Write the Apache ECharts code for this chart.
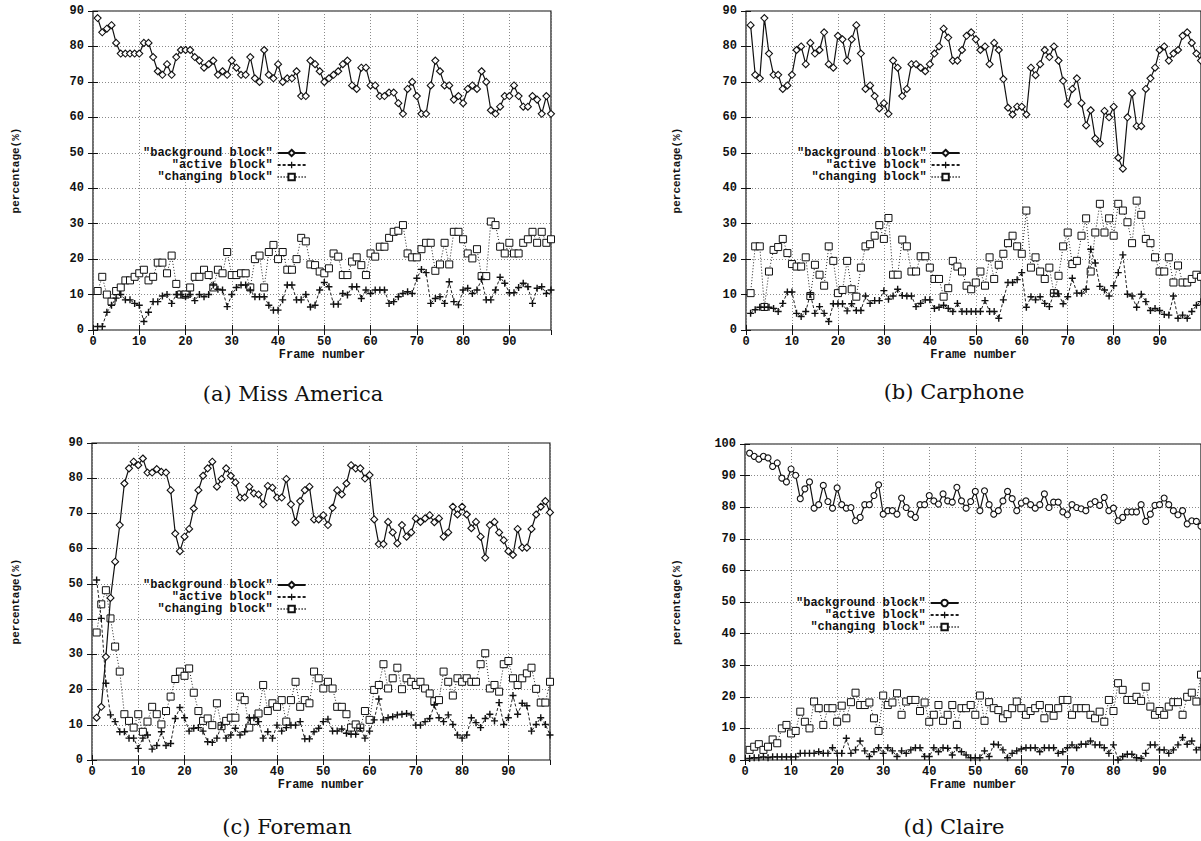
<!DOCTYPE html>
<html>
<head>
<meta charset="utf-8">
<script src="https://cdn.jsdelivr.net/npm/echarts@6/dist/echarts.min.js"></script>
<style>
html,body{margin:0;padding:0;background:#fff;overflow:hidden;}
#chart{width:1201px;height:841px;}
</style>
</head>
<body>
<div id="chart"></div>
<script>
// ---------- data ----------
const FRAMES = [1,2,3,4,5,6,7,8,9,10,11,12,13,14,15,16,17,18,19,20,
  21,22,23,24,25,26,27,28,29,30,31,32,33,34,35,36,37,38,39,40,
  41,42,43,44,45,46,47,48,49,50,51,52,53,54,55,56,57,58,59,60,
  61,62,63,64,65,66,67,68,69,70,71,72,73,74,75,76,77,78,79,80,
  81,82,83,84,85,86,87,88,89,90,91,92,93,94,95,96,97,98,99];

const X_TICKS = [0,10,20,30,40,50,60,70,80,90];
const SERIES_LABELS = ['background block', 'active block', 'changing block'];
const CAPTIONS = ['(a) Miss America', '(b) Carphone', '(c) Foreman', '(d) Claire'];

// (a) Miss America
const MA_BG = [88,84,85,86,81,78,78,78,78,78,
  81,81,77,73,72,75,72,77,79,79,
  79,77,76,74,75,76,72,73,72,76,
  74,72,72,77,71,70,79,72,71,75,
  70,71,71,73,66,66,76,75,73,70,
  71,72,73,75,76,69,68,74,74,69,
  69,66,66,67,67,64,61,68,70,66,
  61,61,69,76,73,69,69,65,66,64,
  68,69,68,73,70,62,61,63,66,66,
  69,66,63,63,66,65,61,66,61];
const MA_ACT = [1,1,5,7,9,10,8.5,8.5,7.5,7,
  2.4,5,8,8,9.6,10,7.5,10,10,9.4,
  10,8.3,10,9.4,10,12.7,11.5,11.3,6.6,10,
  12,12.7,12.7,11.3,9.4,9.4,9.4,7,5.6,5.6,
  8.5,12.7,12.7,8.5,8.5,10,6.5,7,11.3,13.4,
  12.2,7.3,7.3,10.3,9.9,12.2,12.2,8.9,11.3,10.3,
  11.3,11.3,11.3,7.5,8,9.4,10.3,10.8,10.3,14.6,
  17.1,16.2,7.5,8.9,9.4,7.5,13.6,8,7.1,11.3,
  11.8,10.3,11.3,14.3,8.5,8.5,11.3,14.9,13.2,10.5,
  10.5,12,13.2,12.2,7.5,11.8,12.2,10.3,11.3];
const MA_CHG = [11,15,10,8,11,12,14,14,15,16,
  17,14,15,19,19,16,21,13,10,10,
  12,15,15,17,15.5,12,17,16,22,15.5,
  15.5,16,16,12,20,21,12,22,24,20,
  22,17,17,20,26,25,18.5,18.3,16.5,16,
  17.4,21.6,20.7,15.5,15.5,19.3,20.5,18.3,15.5,21.6,
  20.7,23.5,23.5,26,27.7,28,29.6,21.6,20.5,20.5,
  22.8,24.6,24.6,16.7,18.5,24.6,18.5,27.7,27.7,25.6,
  21.6,20.2,22.8,15.2,15.2,30.6,29.6,23.5,21.6,24.6,
  21.6,21.6,24.6,25.6,27.7,24.6,27.7,24.6,25.6];

// (b) Carphone
const CP_BG = [86,72,71,88,78,72,72,68,69,72,
  79,80,75,81,78,79,84,75,74,83,
  82,76,82,86,78,68,69,66,62.5,64,
  61,76,74,66,68,75,75,74,73,75,
  78,80,85,82.5,76,76,79,83,84,82,
  79,80,75,81,79,70.8,62.7,60.8,63,63,
  60.8,74,71.9,75,79,77,80,76,70.3,63.7,
  68,71,64,57.7,62,54,52.6,61.8,60,63,
  48.6,45.5,60,66.8,57.5,57.5,68,71,74,79,
  80,76,78,79,83,84,81,78,76];
const CP_ACT = [4.7,5.7,6.4,6.4,6.4,6.1,5.2,7.5,10.7,10.7,
  4.7,3.8,5.2,10.1,4.7,6.6,4.7,2.4,7.4,7.4,
  7.4,5.4,7.4,5.5,5.5,9.6,7.5,8.3,8.3,11.1,
  8.7,9.6,11.5,9.7,9.6,9.6,6.6,7.5,8.5,8.5,
  6.1,6.4,7,6.1,5.2,7.5,5.2,5.2,5.2,5.2,
  5.2,8.3,5.2,5.2,3.3,8.5,13.4,13.4,14.2,16.2,
  6.4,9.4,8.5,9.4,7.5,6.6,10.4,10.2,7.4,9.4,
  14.6,10.4,10.4,11.5,22.8,18.9,12.3,11.3,9.6,12.5,
  16.2,21.2,10.1,9.6,6.4,10.1,8,5.5,6.1,5.5,
  4.4,4.2,9.6,3.3,4.2,3.3,5.2,7,8];
const CP_CHG = [10.4,23.6,23.6,6.5,16.5,22.6,23.4,25.7,21.7,18.6,
  17.9,17.9,20.5,9.6,18.4,15.6,12.5,23.6,19.5,10.4,
  11.3,19.5,11.5,9.4,17.6,23.6,24.2,26.6,29.6,25.7,
  31.6,15.6,15.6,25.5,23.6,16.5,16.5,20.8,20.8,17.6,
  14.4,14.4,9.4,11.8,19.5,17.9,16.5,12.5,11.5,13.4,
  16.5,12.5,20.5,14.4,18.4,21.5,24.5,26.6,23.6,21.5,
  33.7,17.6,20.5,16.5,14.4,17.6,10.4,15.3,23.6,27.5,
  18.6,19.5,26.6,31.5,16.5,27.5,35.6,27.5,31.5,26.6,
  35.6,33.7,30.4,24.5,36.5,32.5,25.7,24.5,20.5,16.5,
  16.5,20.5,13.4,18.2,13.4,13.4,14.4,15.6,15];

// (c) Foreman
const FM_BG = [12,15.1,29.3,46,56.3,66.7,78.5,82.8,84.7,83.7,
  85.6,81.6,81.6,82.6,81.8,81.6,76.6,64.3,59.3,63.4,
  65.6,71.4,76.6,80.7,82.8,84.7,77.6,79.8,82.8,80.7,
  78.8,74.5,74.5,77.6,75.7,75.4,72.6,77.8,77.3,74.5,
  74.5,79.8,72.6,67.5,73.5,76.6,77.6,68.3,68.3,69.5,
  66.7,71.6,76.6,75.4,78.5,83.7,82.8,82.8,79.9,80.9,
  68.3,61.3,61.3,67.6,64.6,61.5,66.7,63.4,64.6,68.6,
  67.6,68.6,69.5,67.5,68.6,63.4,64.6,71.9,69.7,71.9,
  69.7,65.8,67.6,63.4,57.4,66.7,67.6,64.6,62.4,59.3,
  58.2,65.6,60.3,60.3,65.6,69.7,71.9,73.5,70.3];
const FM_ACT = [51.1,40.2,21.8,12.8,10.9,8,8,6.2,6.2,3.3,
  6.2,7.1,3.1,4.1,8,4.1,4.7,11.8,14.9,12,
  8.2,9,9.2,8.2,5.2,5,6.2,9.9,6.2,7.1,
  9,7.1,8,12,12,10.9,6.2,8,6.2,9.9,
  8.2,9.2,9.9,9.9,10.9,6,6,8,9,10.9,
  11.6,8.2,8.2,8.8,7.6,7.3,7.3,9,6.2,8.2,
  11.4,17.3,11.4,12,12.3,12.8,13,13.2,12.8,9.9,
  9.9,10.9,11.8,15.6,12,10.9,12.8,10.1,7.1,6.2,
  7.1,12,10.6,9.2,11.8,13,11.1,16.3,10.1,12,
  18.3,13,16.1,15.4,8.2,10.1,12,10.1,7.1];
const FM_CHG = [36.2,44.2,48.2,40.2,32.2,25.1,13,11.1,9.2,13,
  8,10.9,15.1,13,10.1,13.9,18,23,25.1,23.9,
  26,19.1,13.9,11.1,11.8,9.9,16.1,9.6,11.1,12,
  12,18,17,9.2,11.1,13.2,21.3,13.9,16.1,15.1,
  17,10.9,17,22.2,15.1,17,16.1,25.1,23.2,20.3,
  22.2,20.3,15.1,15.1,13,9.2,10.1,9.2,13.9,11.4,
  19.9,21.3,27.2,20.3,23.2,26.2,20.1,23.2,22.2,21.3,
  22.2,20.3,18.9,16.7,17,25.1,22.2,18.3,23.2,22.2,
  23.2,22.2,22.2,27.2,30.3,20.3,21.3,19.4,27.2,28.1,
  23.2,21.3,23.2,24.6,26.2,20.2,16.3,16.3,22.2];

// (d) Claire
const CL_BG = [97.1,96.1,95.2,96.1,95.6,92.9,94,89.2,88,92.1,
  90.1,82.7,85.8,88,79.7,80.8,86.9,81.8,79.7,86.1,
  80.8,79.7,79.9,75.7,76.8,80.8,80.8,83.7,87.1,77.8,
  78.9,78.9,77.8,82.9,79.9,77.8,76.8,80.8,80.8,83.7,
  82,81,84.2,82,81.6,86.3,82,79.7,81.8,85,
  78.9,85.2,80.8,77.8,78.9,82,85,82.7,78.9,81.3,
  82,80.8,79.7,80.8,84.2,79.9,81.6,81.6,78.5,77.6,
  80.8,79.9,79.5,78.9,81,81.8,80.6,83.1,78.9,79.7,
  75.7,76.8,78.5,78.5,78.5,80.8,75.5,77.8,80.6,80.8,
  82.9,80.8,78.9,77.6,78.9,74.7,75.7,75.5,74];
const CL_ACT = [0.5,0.7,0.7,1,0.7,1,1,1,1,1,
  1,2.1,2.1,2.1,2.1,2.6,2.1,2.1,3.9,2.1,
  2.1,6.9,2.1,3.2,6,2.9,1.1,2.6,3.9,2.1,
  3.9,2.9,1.1,2.9,2.1,3.2,3.9,3.9,1.1,1.1,
  3.9,2.6,3.9,3.7,1.6,3.9,2.6,1.6,0.7,0.7,
  0.7,2.9,1.1,5,4.8,3.2,0.7,2.1,2.9,3.5,
  3.9,3.9,3.9,2.6,3.9,3.9,3.9,2.1,2.6,3.9,
  4.8,3.9,5,5,6,4.8,4.8,3.9,2.1,4.8,
  0,1.1,1.8,1.8,0.7,0.5,2.1,4.8,4.8,3.2,
  3.2,2.1,3.2,4.8,7.1,5,6,3.2,4];
const CL_CHG = [3.2,4.2,5,3.2,4.2,6.5,5.3,10,11.1,8.4,
  9.2,15.3,12.1,10,18.5,16.4,11.1,16.4,16.4,12.1,
  17.2,13.2,18.3,21.3,17.4,17.4,18.2,13.2,9.2,20.4,
  17.4,18.2,21.1,14.3,18.5,19,19,15.5,18.2,12.1,
  14.3,17.4,12.4,14.3,17.4,11.1,16.4,16.4,17.4,14.3,
  20.4,12.4,18.3,16.4,15.8,13.2,14.5,16.4,18.5,16.4,
  14.3,15.5,16.4,17.4,13.2,16.4,14,16.4,19,19,
  14.3,16.4,16.4,16.4,14.3,13.2,15.3,12.1,19,15.5,
  24.3,22.2,19,19,20,18.7,23.2,16.9,14.3,15.5,
  14.3,16.9,18.3,18.3,14.3,20,21.3,18.5,27];

// ---------- layout / style ----------
const PANELS = [
  {key:'a', grid:{left:93, top:11, width:458, height:319}, ymax:90, bg:MA_BG, act:MA_ACT, chg:MA_CHG,
   legend:{left:143, top:147}, yGap:72, bgSymbol:'diamond', cap:[293,394]},
  {key:'b', grid:{left:746, top:11, width:458, height:319}, ymax:90, bg:CP_BG, act:CP_ACT, chg:CP_CHG,
   legend:{left:797, top:147}, yGap:64, bgSymbol:'diamond', cap:[954,392]},
  {key:'c', grid:{left:92, top:443, width:458, height:317}, ymax:90, bg:FM_BG, act:FM_ACT, chg:FM_CHG,
   legend:{left:143, top:579}, yGap:71, bgSymbol:'diamond', cap:[287,827]},
  {key:'d', grid:{left:745, top:444, width:460, height:316}, ymax:100, bg:CL_BG, act:CL_ACT, chg:CL_CHG,
   legend:{left:796, top:597}, yGap:63, bgSymbol:'circle', cap:[954,827]}
];

const MONO = 'Liberation Mono';
const INK = '#111';
const PLUS = 'path://M4,0H6V4H10V6H6V10H4V6H0V4H4Z';
const monoText = {fontFamily: MONO, fontSize: 12, fontWeight: 'bold', color: INK};

function pairs(vals) { return FRAMES.map((f, i) => [f, vals[i]]); }

const grids = [], xAxes = [], yAxes = [], series = [], legends = [], graphics = [];

PANELS.forEach((p, k) => {
  grids.push(Object.assign({show: true, borderColor: INK, borderWidth: 1.2, backgroundColor: 'transparent'}, p.grid));
  // bottom x axis
  xAxes.push({
    type: 'value', gridIndex: k, position: 'bottom', min: 0, max: 99, interval: 10,
    name: 'Frame number', nameLocation: 'middle', nameGap: 19, nameTextStyle: monoText,
    axisLine: {show: false},
    axisTick: {show: true, inside: true, length: 5, lineStyle: {color: INK}},
    axisLabel: Object.assign({margin: 6, showMaxLabel: false}, monoText),
    splitLine: {show: true, lineStyle: {color: '#8a8a8a', type: [1, 2], width: 1}}
  });
  // mirrored top axis
  xAxes.push({
    type: 'value', gridIndex: k, position: 'top', min: 0, max: 99, interval: 10,
    axisLine: {show: false}, axisLabel: {show: false}, splitLine: {show: false},
    axisTick: {show: true, inside: true, length: 5, lineStyle: {color: INK}}
  });
  // left y axis
  yAxes.push({
    type: 'value', gridIndex: k, position: 'left', min: 0, max: p.ymax, interval: 10,
    name: 'percentage(%)', nameLocation: 'middle', nameRotate: 90, nameGap: p.yGap,
    nameTextStyle: Object.assign({}, monoText, {fontSize: 11}),
    axisLine: {show: false},
    axisTick: {show: true, inside: true, length: 5, lineStyle: {color: INK}},
    axisLabel: Object.assign({margin: 9}, monoText),
    splitLine: {show: true, lineStyle: {color: '#8a8a8a', type: [1, 2], width: 1}}
  });
  // mirrored right axis
  yAxes.push({
    type: 'value', gridIndex: k, position: 'right', min: 0, max: p.ymax, interval: 10,
    axisLine: {show: false}, axisLabel: {show: false}, splitLine: {show: false},
    axisTick: {show: true, inside: true, length: 5, lineStyle: {color: INK}}
  });

  const names = SERIES_LABELS.map(s => p.key + ':' + s);
  series.push({
    name: names[0], type: 'line', xAxisIndex: 2 * k, yAxisIndex: 2 * k, data: pairs(p.bg),
    symbol: p.bgSymbol, symbolSize: p.bgSymbol === 'circle' ? 6 : 7, z: 4,
    lineStyle: {color: INK, width: 1.2, type: 'solid'},
    itemStyle: {color: '#fff', borderColor: INK, borderWidth: 1.1}
  });
  series.push({
    name: names[1], type: 'line', xAxisIndex: 2 * k, yAxisIndex: 2 * k, data: pairs(p.act),
    symbol: PLUS, symbolSize: 7, z: 3,
    lineStyle: {color: '#222', width: 1, type: [3, 2]},
    itemStyle: {color: '#111'}
  });
  series.push({
    name: names[2], type: 'line', xAxisIndex: 2 * k, yAxisIndex: 2 * k, data: pairs(p.chg),
    symbol: 'rect', symbolSize: 7, z: 2,
    lineStyle: {color: '#222', width: 1, type: [1, 2]},
    itemStyle: {color: '#fff', borderColor: INK, borderWidth: 1}
  });

  legends.push({
    orient: 'vertical', left: p.legend.left, top: p.legend.top, padding: 0,
    align: 'right', itemWidth: 28, itemHeight: 8, itemGap: 0,
    selectedMode: false, data: names,
    formatter: n => '"' + n.split(':')[1] + '"',
    textStyle: Object.assign({lineHeight: 12, padding: 0}, monoText)
  });

  graphics.push({
    type: 'text', x: p.cap[0], y: p.cap[1],
    style: {text: CAPTIONS[k], font: '21px "DejaVu Serif"', fill: '#111',
            align: 'center', verticalAlign: 'middle', textAlign: 'center', textVerticalAlign: 'middle'}
  });
});

const chart = echarts.init(document.getElementById('chart'), null, {renderer: 'svg'});
chart.setOption({
  animation: false,
  backgroundColor: '#fff',
  grid: grids,
  xAxis: xAxes,
  yAxis: yAxes,
  legend: legends,
  series: series,
  graphic: graphics
});
</script>
</body>
</html>
